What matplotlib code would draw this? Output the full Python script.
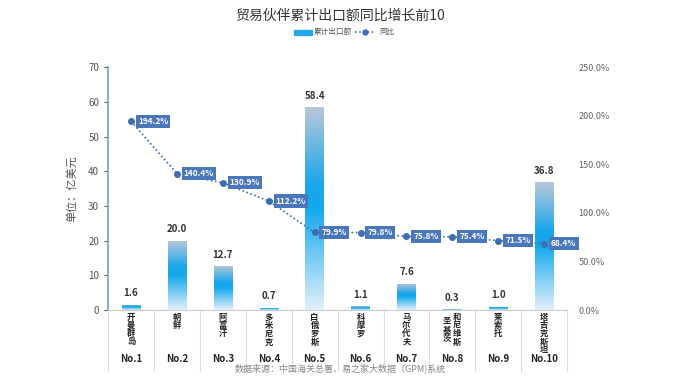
import numpy as np
import matplotlib
matplotlib.use("Agg")
import matplotlib.pyplot as plt
from matplotlib.colors import LinearSegmentedColormap
from matplotlib.patches import Rectangle
from matplotlib.lines import Line2D
from matplotlib.transforms import blended_transform_factory

plt.rcParams["font.family"] = ["Noto Sans CJK SC", "DejaVu Sans"]

# ── 数据 ─────────────────────────────────────────────────────────────────────
countries = ["开曼群岛", "朝鲜", "阿富汗", "多米尼克", "白俄罗斯",
             "科摩罗", "马尔代夫", "圣基茨和尼维斯", "莱索托", "塔吉克斯坦"]
ranks = [f"No.{i}" for i in range(1, 11)]
export_vals = [1.6, 20.0, 12.7, 0.7, 58.4, 1.1, 7.6, 0.3, 1.0, 36.8]   # 亿美元
yoy_pct = [194.2, 140.4, 130.9, 112.2, 79.9, 79.8, 75.8, 75.4, 71.5, 68.4]

# ── 布局 ─────────────────────────────────────────────────────────────────────
fig = plt.figure(figsize=(6.8, 3.81), dpi=100)
ax = fig.add_axes([0.159, 0.186, 0.675, 0.638])
ax2 = ax.twinx()

x = np.arange(len(countries))

# 渐变柱
cmap = LinearSegmentedColormap.from_list(
    "bar", [(0.0, "#e3f1fb"), (0.5, "#13a8ec"), (0.62, "#1aa6ea"), (1.0, "#bac8da")])
grad = np.linspace(0, 1, 256).reshape(-1, 1)
bw = 0.4
for xi, v in zip(x, export_vals):
    rect = Rectangle((xi - bw / 2, 0), bw, v, facecolor="none", edgecolor="none")
    ax.add_patch(rect)
    im = ax.imshow(grad, cmap=cmap, origin="lower", aspect="auto",
                   extent=(xi - bw / 2, xi + bw / 2, 0, v), zorder=2)
    im.set_clip_path(rect)
    ax.text(xi, v + 1.8, f"{v:.1f}", ha="center", va="bottom",
            fontsize=7, fontweight="bold", color="#333333")
ax.set_xlim(-0.5, len(countries) - 0.5)
ax.set_ylim(0, 70)
ax2.set_ylim(0, 250)

# 同比折线
line_c = "#3f6db3"
ax2.plot(x, yoy_pct, color=line_c, ls=(0, (1, 1.5)), lw=1.2, marker="o",
         ms=4, zorder=5)
for xi, p in zip(x, yoy_pct):
    ax2.text(xi + 0.15, p, f"{p:.1f}%", ha="left", va="center", fontsize=6,
             fontweight="bold", color="white", zorder=6,
             bbox=dict(boxstyle="square,pad=0.25", fc="#4a76bb", ec="none"))

# 轴样式
ax.set_yticks(range(0, 71, 10))
ax.tick_params(axis="y", labelsize=7, colors="#555555", length=3)
ax.spines["left"].set_color("#93a7cf")
ax.spines["left"].set_linewidth(1.5)
ax.spines["bottom"].set_color("#cccccc")
for s in ["top", "right"]:
    ax.spines[s].set_visible(False)
for s in ["top", "right", "left", "bottom"]:
    ax2.spines[s].set_visible(False)
ax.set_xticks([])
ax.set_ylabel("单位：亿美元", fontsize=8, color="#555555", labelpad=8)

ax2.set_yticks(range(0, 251, 50))
ax2.set_yticklabels([f"{v:.1f}%" for v in range(0, 251, 50)])
ax2.tick_params(axis="y", labelsize=6.5, colors="#666666", length=0, pad=8)

# 底部类别表格
trans = blended_transform_factory(ax.transData, ax.transAxes)
for xb in np.arange(-0.5, len(countries)):
    ax.add_line(Line2D([xb, xb], [0, -0.25], transform=trans, color="#dddddd",
                       lw=0.8, clip_on=False))

STEP = 5.9   # 竖排字间距（pt）


def vtext(xd, chars, top_off=-7.0):
    """逐字竖排（按基线对齐，字距一致）"""
    for k, ch in enumerate(chars):
        ax.annotate(ch, (xd, 0), xycoords=trans,
                    xytext=(0, top_off - k * STEP), textcoords="offset points",
                    ha="center", va="baseline", fontsize=6, fontweight="bold",
                    color="#222222", annotation_clip=False)


for xi, name, rk in zip(x, countries, ranks):
    if len(name) > 5:
        vtext(xi + 0.1, name[3:])
        vtext(xi - 0.12, name[:3], top_off=-10.0)
    else:
        vtext(xi, name)
    ax.text(xi, -0.2, rk, transform=trans, ha="center", va="center",
            fontsize=7, fontweight="bold", color="#222222")

# 标题 / 图例 / 来源
fig.text(0.5, 0.958, "贸易伙伴累计出口额同比增长前10", ha="center", va="center",
         fontsize=10, color="#333333")
ly = 0.915
fig.patches.append(Rectangle((0.433, ly - 0.007), 0.026, 0.014,
                             transform=fig.transFigure, color="#22a8e8"))
fig.text(0.461, ly, "累计出口额", ha="left", va="center", fontsize=5.5,
         color="#555555")
fig.lines.append(Line2D([0.522, 0.537, 0.552], [ly, ly, ly],
                        transform=fig.transFigure, color=line_c,
                        ls=(0, (1, 1.5)), lw=1.2, marker="o", ms=3.5,
                        markevery=[1]))
fig.text(0.558, ly, "同比", ha="left", va="center", fontsize=5.5, color="#555555")

fig.text(0.5, 0.033, "数据来源：中国海关总署、易之家大数据（GPM)系统", ha="center",
         va="center", fontsize=6.5, color="#888888")

fig.savefig("out.png", dpi=100)
